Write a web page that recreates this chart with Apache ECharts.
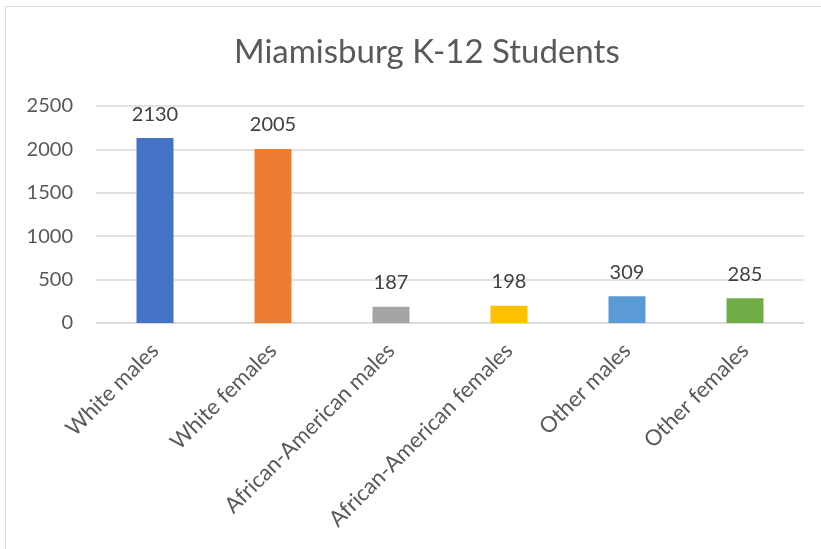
<!DOCTYPE html>
<html>
<head>
<meta charset="utf-8">
<script src="https://cdn.jsdelivr.net/npm/echarts@6/dist/echarts.min.js"></script>
<style>
  html, body { margin: 0; padding: 0; background: #fff; }
  #main { width: 821px; height: 549px; }
</style>
</head>
<body>
<div id="main"></div>
<script>
const categories = ["White males", "White females", "African-American males",
  "African-American females", "Other males", "Other females"];
const students = [2130, 2005, 187, 198, 309, 285];
const barColors = ["#4472C4", "#ED7D31", "#A5A5A5", "#FFC000", "#5B9BD5", "#70AD47"];
const yTicks = [0, 500, 1000, 1500, 2000, 2500];

const font = "Lato, 'Open Sans', sans-serif";
let myChart = echarts.init(document.getElementById("main"));
let option = {
  backgroundColor: "#fff",
  animation: false,
  title: {
    text: "Miamisburg K-12 Students",
    left: 229,
    top: 31,
    textStyle: { fontFamily: font, fontSize: 33, fontWeight: "normal", color: "#595959" },
  },
  graphic: [{
    type: "rect",
    shape: { x: 5.5, y: 6.5, width: 900, height: 700 },
    style: { fill: null, stroke: "#D9D9D9", lineWidth: 1 },
    silent: true,
  }],
  grid: { left: 96, right: 17, top: 106, bottom: 226 },
  xAxis: {
    type: "category",
    data: categories,
    axisLine: { lineStyle: { color: "#D9D9D9", width: 1.5 } },
    axisTick: { show: false },
    axisLabel: {
      rotate: 45,
      margin: 24,
      interval: 0,
      color: "#595959",
      fontFamily: font,
      fontSize: 22,
    },
  },
  yAxis: {
    type: "value",
    min: yTicks[0],
    max: yTicks[yTicks.length - 1],
    interval: 500,
    axisLine: { show: false },
    axisTick: { show: false },
    splitLine: { lineStyle: { color: "#D9D9D9", width: 1.5 } },
    axisLabel: {
      margin: 23,
      color: "#595959",
      fontFamily: font,
      fontSize: 20,
      formatter: (v) => String(v),
    },
  },
  series: [{
    type: "bar",
    barWidth: 37,
    data: students.map((v, i) => ({ value: v, itemStyle: { color: barColors[i] } })),
    label: {
      show: true,
      position: "top",
      distance: 14,
      color: "#404040",
      fontFamily: font,
      fontSize: 20,
    },
  }],
};
myChart.setOption(option);
</script>
</body>
</html>
